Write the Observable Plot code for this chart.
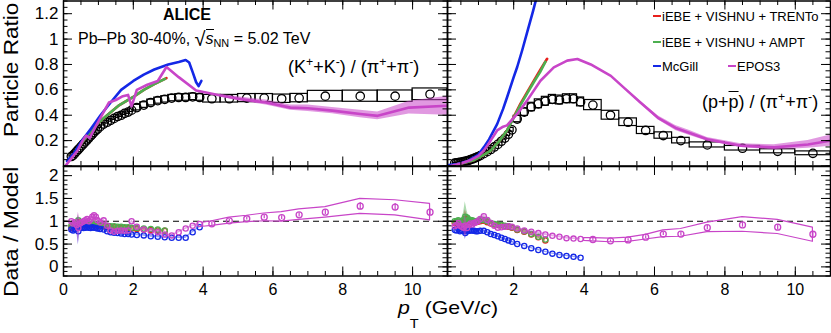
<!DOCTYPE html>
<html><head><meta charset="utf-8">
<script src="https://cdn.jsdelivr.net/npm/d3@7"></script>
<script src="https://cdn.jsdelivr.net/npm/@observablehq/plot@0.6"></script>
<style>
body{margin:0;background:#fff;}
#chart{position:relative;width:831px;height:333px;overflow:hidden;font-family:"Liberation Sans",Arial,sans-serif;color:#000;}
#chart svg{position:absolute;overflow:visible;background:transparent;}
.t{position:absolute;white-space:nowrap;line-height:1;}
.sup{font-size:0.68em;position:relative;top:-0.55em;}
.sub{font-size:0.68em;position:relative;top:0.3em;}
.sw{position:absolute;height:2.6px;width:8px;}
</style></head><body>
<div id="chart">
  <div class="t" style="left:163px;top:7px;font-size:16px;font-weight:bold">ALICE</div>
  <div class="t" style="left:78px;top:26.5px;font-size:16px">Pb–Pb 30-40%, <span style="font-size:20px;position:relative;top:2px">√</span><span style="border-top:1.2px solid #000;padding-top:0px"><i>s</i></span><span class="sub">NN</span> = 5.02 TeV</div>
  <div class="t" style="left:288px;top:58px;font-size:18px">(K<span class="sup">+</span>+K<span class="sup">-</span>) / (π<span class="sup">+</span>+π<span class="sup">-</span>)</div>
  <div class="t" style="left:702px;top:93px;font-size:18px">(p+<span style="text-decoration:overline">p</span>) / (π<span class="sup">+</span>+π<span class="sup">-</span>)</div>
  <div class="sw" style="left:653px;top:14.5px;background:#e8201c"></div>
  <div class="t" style="left:662px;top:9.7px;font-size:13px">iEBE + VISHNU + TRENTo</div>
  <div class="sw" style="left:653px;top:40.5px;background:#4caf50"></div>
  <div class="t" style="left:662px;top:35.5px;font-size:13px">iEBE + VISHNU + AMPT</div>
  <div class="sw" style="left:653px;top:64.5px;background:#1428e6"></div>
  <div class="t" style="left:662px;top:59.5px;font-size:13px">McGill</div>
  <div class="sw" style="left:728px;top:64.5px;background:#c845c8"></div>
  <div class="t" style="left:737px;top:59.5px;font-size:13px">EPOS3</div>
  <div class="t" style="left:1px;top:137px;font-size:20px;transform-origin:0 0;transform:rotate(-90deg) scaleX(1.13)">Particle Ratio</div>
  <div class="t" style="left:1px;top:297px;font-size:20px;transform-origin:0 0;transform:rotate(-90deg) scaleX(1.15)">Data / Model</div>
  <div class="t" style="left:398px;top:298px;font-size:19px;transform-origin:0 0;transform:scaleX(1.12)"><i>p</i><span style="font-size:13px;position:relative;top:14px">T</span> (GeV/<i>c</i>)</div>
</div>
<script>
// ---------- DATA ----------
// K/pi measured (bins)
const kpiEdges = [0.2,0.25,0.3,0.35,0.4,0.45,0.5,0.55,0.6,0.65,0.7,0.75,0.8,0.85,0.9,0.95,1.0,1.1,1.2,1.3,1.4,1.5,1.6,1.7,1.8,1.9,2.0,2.2,2.4,2.6,2.8,3.0,3.2,3.4,3.6,3.8,4.0,4.5,5.0,5.5,6.0,6.5,7.0,8.0,9.0,10.0,11.0];
const kpiVal = [0.075,0.085,0.100,0.115,0.130,0.145,0.160,0.175,0.190,0.205,0.220,0.235,0.250,0.265,0.280,0.290,
  0.310,0.330,0.345,0.360,0.375,0.390,0.400,0.415,0.425,0.440,
  0.460,0.480,0.500,0.515,0.525,0.535,0.540,0.540,0.545,0.540,
  0.530,0.530,0.535,0.535,0.530,0.535,
  0.550,0.550,0.550,0.565];
const kpiSys = [0.005,0.005,0.005,0.005,0.005,0.005,0.005,0.005,0.006,0.006,0.006,0.006,0.007,0.007,0.007,0.007,
  0.010,0.010,0.011,0.011,0.012,0.012,0.013,0.013,0.014,0.014,
  0.022,0.022,0.023,0.024,0.025,0.025,0.026,0.026,0.026,0.026,
  0.030,0.030,0.032,0.032,0.033,0.033,
  0.042,0.044,0.045,0.046];
// p/pi measured (bins)
const ppiEdges = [0.3,0.35,0.4,0.45,0.5,0.55,0.6,0.65,0.7,0.75,0.8,0.85,0.9,0.95,1.0,1.1,1.2,1.3,1.4,1.5,1.6,1.7,1.8,1.9,2.0,2.2,2.4,2.6,2.8,3.0,3.2,3.4,3.6,3.8,4.0,4.5,5.0,5.5,6.0,6.5,7.0,8.0,9.0,10.0,11.0];
const ppiVal = [0.022,0.024,0.026,0.028,0.031,0.034,0.037,0.041,0.045,0.050,0.055,0.060,0.066,0.072,
  0.082,0.097,0.113,0.130,0.150,0.170,0.195,0.220,0.250,0.285,
  0.370,0.425,0.465,0.490,0.510,0.525,0.520,0.530,0.530,0.505,
  0.480,0.400,0.345,0.280,0.240,0.200,
  0.166,0.140,0.116,0.100];
const ppiSys = [0.002,0.002,0.002,0.002,0.002,0.002,0.002,0.002,0.002,0.002,0.002,0.002,0.002,0.002,
  0.004,0.005,0.006,0.007,0.008,0.009,0.010,0.012,0.013,0.015,
  0.025,0.030,0.033,0.035,0.035,0.035,0.035,0.035,0.035,0.035,
  0.040,0.035,0.030,0.028,0.025,0.022,
  0.020,0.018,0.016,0.015];

// Model curves, K/pi
const trentoKpiPt = [0.2,0.4,0.57,0.8,1.0,1.25,1.6,2.0,2.3,2.6,2.95];
const trentoKpi   = [0.06,0.13,0.20,0.28,0.34,0.40,0.48,0.545,0.60,0.645,0.692];
const amptKpiPt = [0.2,0.4,0.57,0.8,1.0,1.25,1.6,2.0,2.3,2.6,2.91];
const amptKpi   = [0.06,0.13,0.20,0.28,0.34,0.40,0.48,0.545,0.60,0.645,0.686];
const mcgillKpiPt = [0.1,0.3,0.53,0.8,1.06,1.35,1.65,2.0,2.3,2.6,3.0,3.3,3.5,3.6,3.7,3.8,3.87,3.95];
const mcgillKpi   = [0.04,0.10,0.20,0.30,0.40,0.50,0.60,0.67,0.72,0.76,0.80,0.82,0.835,0.815,0.74,0.66,0.63,0.67];
const eposKpiPt = [0.05,0.2,0.4,0.55,0.65,0.75,0.9,1.1,1.3,1.5,1.7,1.85,1.95,2.1,2.4,2.7,2.95,3.3,3.8,4.5,5.0,5.8,6.5,7.0,7.7,8.5,9.0,9.9,11];
const eposKpi   = [0.0,0.05,0.12,0.20,0.24,0.22,0.30,0.40,0.50,0.52,0.55,0.56,0.47,0.60,0.64,0.67,0.78,0.70,0.595,0.555,0.53,0.50,0.46,0.455,0.436,0.41,0.395,0.46,0.475];
const eposKpiErr = [0,0,0,0,0,0,0,0,0,0,0,0,0,0,0,0,0,0,0,0.01,0.015,0.02,0.02,0.025,0.025,0.03,0.03,0.05,0.075];

// Model curves, p/pi
const trentoPpiPt = [0.3,0.6,0.86,1.1,1.34,1.6,1.81,2.0,2.19,2.4,2.57,2.75,2.95];
const trentoPpi   = [0.01,0.025,0.045,0.08,0.12,0.20,0.28,0.385,0.49,0.59,0.67,0.755,0.845];
const amptPpiPt = [0.3,0.6,0.86,1.1,1.34,1.6,1.81,2.0,2.19,2.4,2.57,2.75,2.9];
const amptPpi   = [0.01,0.025,0.045,0.08,0.12,0.20,0.28,0.38,0.48,0.58,0.66,0.74,0.82];
const mcgillPpiPt = [0.1,0.4,0.7,1.0,1.15,1.3,1.53,1.7,1.81,2.0,2.1,2.24,2.4,2.55,2.7];
const mcgillPpi   = [0.005,0.015,0.04,0.09,0.147,0.21,0.33,0.45,0.54,0.70,0.78,0.91,1.07,1.22,1.38];
const eposPpiPt = [0.2,0.5,0.8,1.0,1.15,1.3,1.53,1.7,1.81,2.1,2.38,2.76,3.14,3.52,3.81,4.19,4.76,5.2,5.6,6.1,6.6,7.0,7.5,8.46,9.4,10.36,11];
const eposPpi   = [0.0,0.02,0.05,0.08,0.12,0.18,0.28,0.31,0.32,0.41,0.515,0.672,0.777,0.83,0.843,0.80,0.71,0.60,0.50,0.38,0.30,0.26,0.21,0.16,0.147,0.17,0.20];
const eposPpiErr = [0,0,0,0,0,0,0,0,0,0,0,0,0,0,0,0,0,0.008,0.01,0.015,0.02,0.02,0.015,0.015,0.02,0.03,0.045];

// Data / Model, K/pi (first 36 measured bins; AMPT/TRENTo first 31)
const eposKpiRatio = [1.00,0.95,0.98,0.92,0.85,0.95,0.98,1.00,1.02,1.05,1.00,1.04,1.10,1.13,1.10,1.02,
  0.98,1.02,0.90,0.80,0.77,0.79,0.80,0.79,0.80,1.00,
  0.88,0.82,0.78,0.76,0.71,0.69,0.76,0.84,0.90,0.94];
const eposKpiRatioErr = [0.05,0.05,0.05,0.06,0.35,0.08,0.05,0.05,0.05,0.05,0.05,0.05,0.05,0.05,0.05,0.05,
  0.04,0.04,0.04,0.03,0.03,0.03,0.03,0.03,0.03,0.03,
  0.02,0.02,0.02,0.02,0.02,0.02,0.02,0.02,0.02,0.02];
const mcgillKpiRatio = [0.82,0.80,0.83,0.85,0.78,0.86,0.86,0.85,0.86,0.87,0.86,0.85,0.87,0.86,0.85,0.84,
  0.83,0.82,0.78,0.76,0.75,0.74,0.73,0.72,0.72,0.71,
  0.70,0.69,0.67,0.66,0.65,0.64,0.64,0.64,0.76,0.87];
const mcgillKpiRatioErr = [0.04,0.04,0.04,0.05,0.30,0.06,0.04,0.04,0.04,0.04,0.04,0.04,0.04,0.04,0.04,0.04,
  0.03,0.03,0.03,0.03,0.03,0.03,0.03,0.03,0.03,0.03,
  0.02,0.02,0.02,0.02,0.02,0.02,0.02,0.02,0.02,0.02];
const amptKpiRatio = [0.90,0.92,0.93,0.94,1.02,0.92,0.93,0.94,0.93,0.95,0.94,0.93,0.95,0.94,0.93,0.93,
  0.92,0.91,0.90,0.89,0.89,0.88,0.88,0.87,0.87,0.86,
  0.85,0.84,0.83,0.82,0.80];
const amptKpiRatioErr = [0.05,0.05,0.05,0.06,0.12,0.06,0.05,0.05,0.05,0.05,0.05,0.05,0.05,0.05,0.05,0.05,
  0.04,0.04,0.04,0.03,0.03,0.03,0.03,0.03,0.03,0.03,
  0.02,0.02,0.02,0.02,0.02];
const trentoKpiRatio = [0.86,0.88,0.90,0.92,0.98,0.90,0.91,0.92,0.91,0.93,0.92,0.91,0.93,0.92,0.91,0.91,
  0.90,0.89,0.88,0.87,0.87,0.86,0.86,0.85,0.85,0.84,
  0.83,0.82,0.81,0.80,0.79];
const trentoKpiRatioErr = [0.05,0.05,0.05,0.06,0.12,0.06,0.05,0.05,0.05,0.05,0.05,0.05,0.05,0.05,0.05,0.05,
  0.04,0.04,0.04,0.03,0.03,0.03,0.03,0.03,0.03,0.03,
  0.02,0.02,0.02,0.02,0.02];
// EPOS3 ratio at high pT (last 10 K/pi bins)
const eposKpiRatioHi = [0.944,1.01,1.055,1.09,1.08,1.14,1.20,1.33,1.31,1.20];
const eposKpiRatioHiStat = [0.03,0.03,0.03,0.035,0.04,0.045,0.05,0.08,0.08,0.07];
const eposBandPt = [4.0,4.25,4.75,5.25,5.75,6.25,6.75,7.5,8.5,9.5,10.5];
const eposKpiBandUp = [0.97,1.00,1.08,1.12,1.17,1.20,1.26,1.31,1.49,1.46,1.38];
const eposKpiBandLo = [0.88,0.90,0.95,0.98,1.00,0.99,1.03,1.08,1.16,1.13,1.02];

// Data / Model, p/pi (first 34 measured bins; AMPT/TRENTo first 29)
const eposPpiRatio = [0.89,0.92,0.96,0.90,0.88,0.86,0.90,0.85,0.92,0.95,0.93,0.96,0.98,1.00,
  1.05,1.11,1.03,0.96,0.90,0.86,0.87,0.88,0.89,0.88,
  0.84,0.80,0.77,0.74,0.71,0.68,0.66,0.63,0.62,0.61];
const eposPpiRatioErr = [0.04,0.04,0.04,0.04,0.05,0.08,0.25,0.08,0.04,0.04,0.04,0.04,0.04,0.04,
  0.04,0.04,0.04,0.03,0.03,0.03,0.03,0.03,0.03,0.03,
  0.02,0.02,0.02,0.02,0.02,0.02,0.02,0.02,0.02,0.02];
const mcgillPpiRatio = [0.81,0.80,0.84,0.78,0.80,0.79,0.74,0.78,0.79,0.80,0.80,0.79,0.78,0.78,
  0.79,0.79,0.76,0.72,0.70,0.67,0.64,0.61,0.58,0.55,
  0.50,0.46,0.41,0.37,0.33,0.29,0.26,0.24,0.22,0.20];
const mcgillPpiRatioErr = [0.03,0.03,0.03,0.03,0.04,0.06,0.14,0.06,0.03,0.03,0.03,0.03,0.03,0.03,
  0.02,0.02,0.02,0.02,0.02,0.02,0.02,0.02,0.02,0.02,
  0.015,0.015,0.015,0.015,0.015,0.015,0.015,0.015,0.015,0.015];
const amptPpiRatio = [1.00,1.00,1.02,0.98,1.00,1.03,1.10,1.08,1.04,1.03,1.02,1.00,1.00,1.01,
  1.02,1.03,1.00,0.96,0.94,0.93,0.92,0.90,0.89,0.87,
  0.82,0.78,0.72,0.66,0.60];
const amptPpiRatioErr = [0.05,0.05,0.05,0.06,0.08,0.15,0.33,0.15,0.06,0.05,0.05,0.05,0.05,0.05,
  0.04,0.04,0.04,0.03,0.03,0.03,0.03,0.03,0.03,0.03,
  0.03,0.03,0.03,0.03,0.03];
const trentoPpiRatio = [0.96,0.97,0.99,0.95,0.97,1.00,1.05,1.04,1.01,1.00,0.99,0.98,0.98,0.99,
  1.00,1.01,0.98,0.95,0.93,0.92,0.91,0.89,0.88,0.86,
  0.81,0.77,0.71,0.65,0.58];
const trentoPpiRatioErr = [0.04,0.04,0.04,0.05,0.06,0.10,0.20,0.10,0.05,0.04,0.04,0.04,0.04,0.04,
  0.03,0.03,0.03,0.03,0.03,0.03,0.03,0.03,0.03,0.03,
  0.03,0.03,0.03,0.03,0.03];
const eposPpiRatioHi = [0.60,0.57,0.59,0.65,0.72,0.72,0.86,0.92,0.87,0.715];
const eposPpiRatioHiStat = [0.02,0.02,0.025,0.03,0.035,0.04,0.045,0.05,0.06,0.06];
const eposPpiBandUp = [0.63,0.63,0.62,0.64,0.70,0.80,0.83,0.97,1.09,1.03,0.86];
const eposPpiBandLo = [0.57,0.56,0.54,0.55,0.60,0.65,0.66,0.76,0.77,0.72,0.55];

// axis ticks / labels
const xTickLabelsLeft = [0,2,4,6,8,10];
const xTickLabelsRight = [2,4,6,8,10];
const yTickLabelsTop = [0.2,0.4,0.6,0.8,1,1.2];
const yTickLabelsBottom = [0,0.5,1,1.5,2];

// ---------- STYLE ----------
const RED = "#e8201c", GRN = "#4caf50", BLU = "#1428e6", MAG = "#c845c8";
const FONT = '"Liberation Sans", Arial, sans-serif';
const chart = document.getElementById("chart");

// ---------- TABLES ----------
const binTable = (edges, vals, sys) => vals.map((y, i) => ({x1: edges[i], x2: edges[i+1], x: (edges[i]+edges[i+1])/2, y, s: sys[i]}));
const curve = (pt, v, e) => pt.map((x, i) => ({x, y: v[i], e: e ? e[i] : 0}));
const ratio = (edges, v, e) => v.map((y, i) => ({x: (edges[i]+edges[i+1])/2, y, e: e[i]}));
const kpiData = binTable(kpiEdges, kpiVal, kpiSys);
const ppiData = binTable(ppiEdges, ppiVal, ppiSys);
const nK = kpiEdges.length - 1, nP = ppiEdges.length - 1;
const kpiHi = eposKpiRatioHi.map((y, i) => ({x: kpiData[nK-10+i].x, y, e: eposKpiRatioHiStat[i]}));
const ppiHi = eposPpiRatioHi.map((y, i) => ({x: ppiData[nP-10+i].x, y, e: eposPpiRatioHiStat[i]}));
const kpiBand = eposBandPt.map((x, i) => ({x, lo: eposKpiBandLo[i], hi: eposKpiBandUp[i]}));
const ppiBand = eposBandPt.map((x, i) => ({x, lo: eposPpiBandLo[i], hi: eposPpiBandUp[i]}));

// ---------- HELPERS ----------
function frameTicks(xd, yd, W, H, xMaj, xMin, yMaj, yMin) {
  const px = (xd[1]-xd[0])/W, py = (yd[1]-yd[0])/H;
  const out = [];
  const inX = v => v.filter(d => d >= xd[0]-1e-9 && d <= xd[1]+1e-9);
  const inY = v => v.filter(d => d >= yd[0]-1e-9 && d <= yd[1]+1e-9);
  for (const [vals, len] of [[inX(xMaj), 9], [inX(xMin), 4.5]]) {
    out.push(Plot.ruleX(vals, {x: d => d, y1: () => yd[0], y2: () => yd[0] + len*py, stroke: "#000", strokeWidth: 1}));
    out.push(Plot.ruleX(vals, {x: d => d, y1: () => yd[1], y2: () => yd[1] - len*py, stroke: "#000", strokeWidth: 1}));
  }
  for (const [vals, len] of [[inY(yMaj), 9], [inY(yMin), 4.5]]) {
    out.push(Plot.ruleY(vals, {y: d => d, x1: () => xd[0], x2: () => xd[0] + len*px, stroke: "#000", strokeWidth: 1}));
    out.push(Plot.ruleY(vals, {y: d => d, x1: () => xd[1], x2: () => xd[1] - len*px, stroke: "#000", strokeWidth: 1}));
  }
  return out;
}

function panel(o) {
  const W = o.width - o.mL - o.mR, H = o.height - o.mT - o.mB;
  const axes = [];
  if (o.yLabels) axes.push(Plot.axisY(o.yLabels, {anchor: "left", label: null, tickSize: 0, tickPadding: 5, fontSize: 17, tickFormat: d => String(d)}));
  if (o.xLabels) axes.push(Plot.axisX(o.xLabels, {anchor: "bottom", label: null, tickSize: 0, tickPadding: 8, fontSize: 16, tickFormat: d => String(d)}));
  const svg = Plot.plot({
    width: o.width, height: o.height,
    marginLeft: o.mL, marginRight: o.mR, marginTop: o.mT, marginBottom: o.mB,
    x: {domain: o.xDomain, axis: null, label: null},
    y: {domain: o.yDomain, axis: null, label: null},
    style: {background: "transparent", overflow: "visible", fontFamily: FONT, color: "#000"},
    marks: [
      ...o.marks,
      ...frameTicks(o.xDomain, o.yDomain, W, H, o.xMaj, o.xMin, o.yMaj, o.yMin),
      Plot.frame({stroke: "#000", strokeWidth: 1.5}),
      ...axes
    ]
  });
  svg.style.left = o.left + "px";
  svg.style.top = o.top + "px";
  chart.append(svg);
}

const xMaj = [0,2,4,6,8,10];
const xMin = d3.range(0, 11.001, 0.5);
const yMajTop = [0,0.2,0.4,0.6,0.8,1,1.2];
const yMinTop = d3.range(0, 1.301, 0.05);
const yMajBot = [0,0.5,1,1.5,2];
const yMinBot = d3.range(-0.2, 2.201, 0.1);

function topMarks(data, tr, am, mc, ep) {
  return [
    Plot.rect(data, {x1: "x1", x2: "x2", y1: d => d.y - d.s, y2: d => d.y + d.s, stroke: "#000", strokeWidth: 1.2, fill: "none", clip: true}),
    Plot.dot(data, {x: "x", y: "y", r: 4.2, stroke: "#000", strokeWidth: 1.3, fill: "none", clip: true}),
    Plot.areaY(ep.filter(d => d.e > 0), {x: "x", y1: d => d.y - d.e, y2: d => d.y + d.e, fill: MAG, fillOpacity: 0.55, clip: true}),
    Plot.line(tr, {x: "x", y: "y", stroke: RED, strokeWidth: 2.6, clip: true}),
    Plot.line(am, {x: "x", y: "y", stroke: GRN, strokeWidth: 2.6, clip: true}),
    Plot.line(mc, {x: "x", y: "y", stroke: BLU, strokeWidth: 2.6, clip: true}),
    Plot.line(ep, {x: "x", y: "y", stroke: MAG, strokeWidth: 2.6, clip: true})
  ];
}

function ratioMarks(tbl, color) {
  return [
    Plot.areaY(tbl, {x: "x", y1: d => d.y - d.e, y2: d => d.y + d.e, fill: color, fillOpacity: 0.45, clip: true}),
    Plot.dot(tbl, {x: "x", y: "y", r: 2.6, stroke: color, strokeWidth: 1.3, fill: "none", clip: true})
  ];
}

function bottomMarks(tr, am, mc, ep, hi, band) {
  return [
    Plot.ruleY([1], {stroke: "#000", strokeWidth: 1, strokeDasharray: "6,4"}),
    ...ratioMarks(tr, RED),
    ...ratioMarks(am, GRN),
    ...ratioMarks(mc, BLU),
    ...ratioMarks(ep, MAG),
    Plot.areaY(band, {x: "x", y1: "lo", y2: "hi", fill: "none", stroke: MAG, strokeWidth: 1.2, clip: true}),
    Plot.ruleX(hi, {x: "x", y1: d => d.y - d.e, y2: d => d.y + d.e, stroke: MAG, strokeWidth: 1.2}),
    Plot.dot(hi, {x: "x", y: "y", r: 3, stroke: MAG, strokeWidth: 1.3, fill: "none"})
  ];
}

const xL = [0, 11], xR = [0.12, 11];
const yT = [0, 1.3], yB = [-0.2, 2.2];

// Top-left: K/pi
panel({left: 0, top: 0, width: 447, height: 166, mL: 63, mR: 0, mT: 0.5, mB: 0.5,
  xDomain: xL, yDomain: yT, xMaj, xMin, yMaj: yMajTop, yMin: yMinTop, yLabels: yTickLabelsTop,
  marks: topMarks(kpiData, curve(trentoKpiPt, trentoKpi), curve(amptKpiPt, amptKpi), curve(mcgillKpiPt, mcgillKpi), curve(eposKpiPt, eposKpi, eposKpiErr))});
// Top-right: p/pi
panel({left: 447, top: 0, width: 383, height: 166, mL: 0, mR: 0, mT: 0.5, mB: 0.5,
  xDomain: xR, yDomain: yT, xMaj, xMin, yMaj: yMajTop, yMin: yMinTop,
  marks: topMarks(ppiData, curve(trentoPpiPt, trentoPpi), curve(amptPpiPt, amptPpi), curve(mcgillPpiPt, mcgillPpi), curve(eposPpiPt, eposPpi, eposPpiErr))});
// Bottom-left: K/pi ratios
panel({left: 0, top: 166, width: 447, height: 136, mL: 63, mR: 0, mT: 0, mB: 26.5,
  xDomain: xL, yDomain: yB, xMaj, xMin, yMaj: yMajBot, yMin: yMinBot, yLabels: yTickLabelsBottom, xLabels: xTickLabelsLeft,
  marks: bottomMarks(ratio(kpiEdges, trentoKpiRatio, trentoKpiRatioErr), ratio(kpiEdges, amptKpiRatio, amptKpiRatioErr),
    ratio(kpiEdges, mcgillKpiRatio, mcgillKpiRatioErr), ratio(kpiEdges, eposKpiRatio, eposKpiRatioErr), kpiHi, kpiBand)});
// Bottom-right: p/pi ratios
panel({left: 447, top: 166, width: 383, height: 136, mL: 0, mR: 0, mT: 0, mB: 26.5,
  xDomain: xR, yDomain: yB, xMaj, xMin, yMaj: yMajBot, yMin: yMinBot, xLabels: xTickLabelsRight,
  marks: bottomMarks(ratio(ppiEdges, trentoPpiRatio, trentoPpiRatioErr), ratio(ppiEdges, amptPpiRatio, amptPpiRatioErr),
    ratio(ppiEdges, mcgillPpiRatio, mcgillPpiRatioErr), ratio(ppiEdges, eposPpiRatio, eposPpiRatioErr), ppiHi, ppiBand)});
</script>
</body></html>
